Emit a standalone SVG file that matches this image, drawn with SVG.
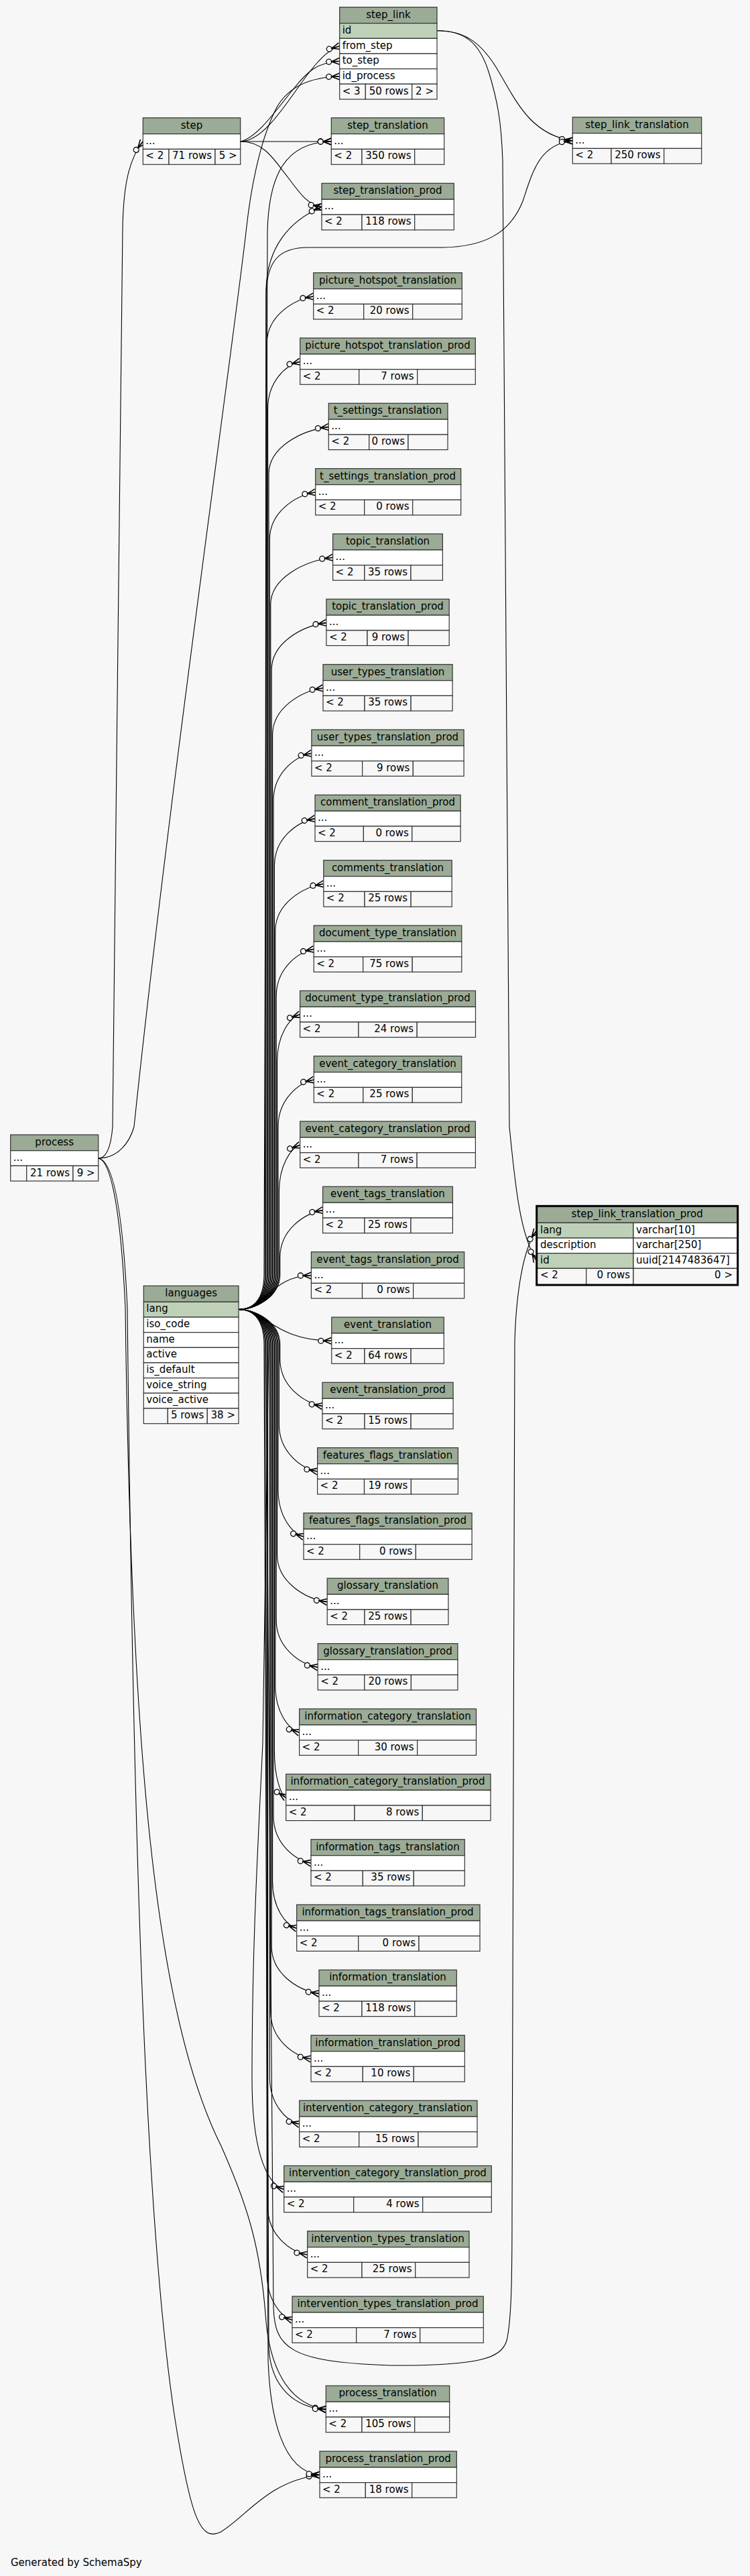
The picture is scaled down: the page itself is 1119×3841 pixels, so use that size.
<svg xmlns="http://www.w3.org/2000/svg" width="1119" height="3841" viewBox="0 0 1119 3841">
<style>
text{font-family:"DejaVu Sans","Liberation Sans",sans-serif;font-size:15px;fill:#000}
.c{text-anchor:middle}
.e{text-anchor:end}
.h{fill:#9bab96;stroke:#333;stroke-width:1.2}
.r{fill:#fff;stroke:#333;stroke-width:1.2}
.k{fill:#bed1b8;stroke:#333;stroke-width:1.2}
.f{fill:#f7f7f7;stroke:#333;stroke-width:1.2}
.l{fill:none;stroke:#000;stroke-width:1.1;marker-end:url(#cf)}
</style>
<defs>
<marker id="cf" viewBox="-22 -7 24 14" refX="0" refY="0" markerWidth="24" markerHeight="14" markerUnits="userSpaceOnUse" orient="auto" overflow="visible">
<circle cx="-16" cy="0" r="4" fill="#f7f7f7" stroke="#000" stroke-width="1.3"/>
<path d="M0,-5 L-12,0 L0,5 M-12,0 L0,0" fill="none" stroke="#000" stroke-width="1.6"/>
</marker>
</defs>
<rect x="0" y="0" width="1119" height="3841" fill="#f7f7f7"/>
<g id="edges">
<path class="l" d="M358.7,211 C400,211 440,130 472,95 C485,80 495,72 506.7,68.7"/>
<path class="l" d="M358.7,211 C385,205 415,160 440,130 C458,108 472,93 506.7,91.3"/>
<path class="l" d="M358.7,211 L494.3,211"/>
<path class="l" d="M358.7,211 C395,211 410,240 430,265 C450,292 460,305 480,308.5"/>
<path class="l" d="M146.7,1727 C160,1727 166,1705 168,1680 C172,1300 180,600 183,340 C184,285 190,240 213.3,211"/>
<path class="l" d="M146.7,1727 C175,1727 193,1705 200,1680 C250,1200 350,500 367.7,340 C376,265 392,200 413,160 C430,130 460,115 506.7,114"/>
<path class="l" d="M146.7,1727 C165,1730 180,1800 187,1950 C195,2600 230,3000 330,3200 C370,3290 388,3350 396,3450 C401,3530 430,3585 486.3,3592.6"/>
<path class="l" d="M146.7,1727 C168,1730 183,1800 190,1950 C198,2700 215,3300 260,3600 C285,3760 300,3790 330,3775 C370,3750 400,3700 477,3690.3"/>
<path class="l" d="M652,45.7 C690,45.7 715,60 740,100 C770,150 790,200 854.3,210"/>
<path class="l" d="M652,45.7 C690,45.7 715,60 730,110 C742,150 748,180 750,240 L760,1680 C768,1760 775,1840 800.7,1880"/>
<path class="l" d="M356,1952.5 C380,1952.5 394,1935 394,1900 L399,345 C401,262 425,212 494.3,211"/>
<path class="l" d="M356,1952.5 C380,1952.5 395.4,1935 395.4,1900 L397,430 C399,370 430,330 480,308.5"/>
<path class="l" d="M356,1952.5 C380,1952.5 396.8,1935 396.8,1900 L397,440 C398,390 415,369 460,369 L660,369 C720,368 760,350 780,300 C795,255 805,215 854.3,210"/>
<path class="l" d="M356,1952.5 C380,1952.5 398.2,1935 398.2,1900 L398.2,512 C398.2,472 436.4,447 467.7,442"/>
<path class="l" d="M356,1952.5 C380,1952.5 399.6,1935 399.6,1900 L399.6,609.3 C399.6,569.3 426.1,544.3 447.7,539.3"/>
<path class="l" d="M356,1952.5 C380,1952.5 401,1935 401,1900 L401,706.6 C401,666.6 450.1,641.6 490.3,636.6"/>
<path class="l" d="M356,1952.5 C380,1952.5 402.4,1935 402.4,1900 L402.4,804 C402.4,764 440,739 470.7,734"/>
<path class="l" d="M356,1952.5 C380,1952.5 403.8,1935 403.8,1900 L403.8,901.3 C403.8,861.3 454.8,836.3 496.6,831.3"/>
<path class="l" d="M356,1952.5 C380,1952.5 405.2,1935 405.2,1900 L405.2,998.6 C405.2,958.6 450.1,933.6 486.9,928.6"/>
<path class="l" d="M356,1952.5 C380,1952.5 406.6,1935 406.6,1900 L406.6,1096 C406.6,1056 448.1,1031 482,1026"/>
<path class="l" d="M356,1952.5 C380,1952.5 408,1935 408,1900 L408,1193.3 C408,1153.3 439.3,1128.3 464.9,1123.3"/>
<path class="l" d="M356,1952.5 C380,1952.5 409.4,1935 409.4,1900 L409.4,1290.6 C409.4,1250.6 442.7,1225.6 470,1220.6"/>
<path class="l" d="M356,1952.5 C380,1952.5 410.8,1935 410.8,1900 L410.8,1388 C410.8,1348 450.4,1323 482.8,1318"/>
<path class="l" d="M356,1952.5 C380,1952.5 412.2,1935 412.2,1900 L412.2,1485.3 C412.2,1445.3 443,1420.3 468.2,1415.3"/>
<path class="l" d="M356,1952.5 C380,1952.5 413.6,1935 413.6,1900 L413.6,1582.6 C413.6,1542.6 432.3,1517.6 447.6,1512.6"/>
<path class="l" d="M356,1952.5 C380,1952.5 415,1935 415,1900 L415,1680 C415,1640 444.3,1615 468.3,1610"/>
<path class="l" d="M356,1952.5 C380,1952.5 416.4,1935 416.4,1900 L416.4,1777.3 C416.4,1737.3 433.6,1712.3 447.7,1707.3"/>
<path class="l" d="M356,1952.5 C380,1952.5 417.8,1935 417.8,1900 L417.8,1874.6 C417.8,1834.6 452.9,1809.6 481.6,1804.6"/>
<path class="l" d="M356,1952.5 C395,1952.5 405,1902 464.4,1902"/>
<path class="l" d="M356,1952.5 C395,1952.5 410,1999.3 494.8,1999.3"/>
<path class="l" d="M356,1952.5 C380,1952.5 417.8,1970 417.8,2005 L417.8,2026.6 C417.8,2066.6 452.6,2091.6 481,2096.6"/>
<path class="l" d="M356,1952.5 C380,1952.5 416.4,1970 416.4,2005 L416.4,2124 C416.4,2164 447.9,2189 473.6,2194"/>
<path class="l" d="M356,1952.5 C380,1952.5 415,1970 415,2005 L415,2221.3 C415,2261.3 435.9,2286.3 453,2291.3"/>
<path class="l" d="M356,1952.5 C380,1952.5 413.6,1970 413.6,2005 L413.6,2318.6 C413.6,2358.6 454.6,2383.6 488.2,2388.6"/>
<path class="l" d="M356,1952.5 C380,1952.5 412.2,1970 412.2,2005 L412.2,2416 C412.2,2456 446.3,2481 474.2,2486"/>
<path class="l" d="M356,1952.5 C380,1952.5 410.8,1970 410.8,2005 L410.8,2513.3 C410.8,2553.3 430.5,2578.3 446.6,2583.3"/>
<path class="l" d="M356,1952.5 C380,1952.5 409.4,1970 409.4,2005 L409.4,2610.6 C409.4,2650.6 418.9,2675.6 426.7,2680.6"/>
<path class="l" d="M356,1952.5 C380,1952.5 408,1970 408,2005 L408,2708 C408,2748 438.8,2773 464,2778"/>
<path class="l" d="M356,1952.5 C380,1952.5 406.6,1970 406.6,2005 L406.6,2805.3 C406.6,2845.3 426.5,2870.3 442.7,2875.3"/>
<path class="l" d="M356,1952.5 C380,1952.5 405.2,1970 405.2,2005 L405.2,2902.6 C405.2,2942.6 444.1,2967.6 476,2972.6"/>
<path class="l" d="M356,1952.5 C380,1952.5 403.8,1970 403.8,2005 L403.8,3000 C403.8,3040 436.9,3065 464,3070"/>
<path class="l" d="M356,1952.5 C380,1952.5 402.4,1970 402.4,2005 L402.4,3097.3 C402.4,3137.3 426.8,3162.3 446.7,3167.3"/>
<path class="l" d="M356,1952.5 C380,1952.5 401,1970 401,2005 L392,2600 C385,2750 376,2900 376,3100 C376,3200 395,3255 423.7,3264.6"/>
<path class="l" d="M356,1952.5 C380,1952.5 399.6,1970 399.6,2005 L399.6,3292 C399.6,3332 432.1,3357 458.7,3362"/>
<path class="l" d="M356,1952.5 C380,1952.5 398.2,1970 398.2,2005 L398.2,3389.3 C398.2,3429.3 419,3454.3 436,3459.3"/>
<path class="l" d="M356,1952.5 C380,1952.5 396.8,1970 396.8,2005 L408,3440 C410,3500 430,3522 582,3527 C720,3528 748,3515 756,3490 C763,3460 764,3400 764,3300 L768,2000 C770,1930 780,1862 800.7,1834.7"/>
<path class="l" d="M356,1952.5 C380,1952.5 395.4,1970 395.4,2005 L401,3500 C404,3560 440,3590 486.3,3592.6"/>
<path class="l" d="M356,1952.5 C380,1952.5 394,1970 394,2005 L400,3520 C403,3600 420,3685 477,3690.3"/>
</g>
<g id="step_link"><rect class="h" x="506.7" y="10.7" width="145.3" height="24"/><rect class="k" x="506.7" y="34.7" width="145.3" height="22.6"/><rect class="r" x="506.7" y="57.3" width="145.3" height="22.7"/><rect class="r" x="506.7" y="80" width="145.3" height="22.7"/><rect class="r" x="506.7" y="102.7" width="145.3" height="22.6"/><rect class="f" x="506.7" y="125.3" width="38.6" height="22.7"/><rect class="f" x="545.3" y="125.3" width="69.4" height="22.7"/><rect class="f" x="614.7" y="125.3" width="37.3" height="22.7"/><text class="c" x="579.4" y="26.7">step_link</text><text x="510.7" y="50">id</text><text x="510.7" y="72.6">from_step</text><text x="510.7" y="95.3">to_step</text><text x="510.7" y="118">id_process</text><text x="510.7" y="140.6">&lt; 3</text><text class="e" x="609.7" y="140.6">50 rows</text><text class="e" x="647" y="140.6">2 &gt;</text></g>
<g id="step"><rect class="h" x="213.3" y="175.7" width="145.4" height="24"/><rect class="r" x="213.3" y="199.7" width="145.4" height="22.7"/><rect class="f" x="213.3" y="222.4" width="38.7" height="22.9"/><rect class="f" x="252" y="222.4" width="69" height="22.9"/><rect class="f" x="321" y="222.4" width="37.7" height="22.9"/><text class="c" x="286" y="191.7">step</text><text x="217.3" y="214.7">...</text><text x="217.3" y="237.2">&lt; 2</text><text class="e" x="316" y="237.2">71 rows</text><text class="e" x="353.7" y="237.2">5 &gt;</text></g>
<g id="step_translation"><rect class="h" x="494.3" y="175.7" width="168.4" height="24"/><rect class="r" x="494.3" y="199.7" width="168.4" height="22.7"/><rect class="f" x="494.3" y="222.4" width="45.7" height="22.9"/><rect class="f" x="540" y="222.4" width="78.7" height="22.9"/><rect class="f" x="618.7" y="222.4" width="44" height="22.9"/><text class="c" x="578.5" y="191.7">step_translation</text><text x="498.3" y="214.7">...</text><text x="498.3" y="237.2">&lt; 2</text><text class="e" x="613.7" y="237.2">350 rows</text></g>
<g id="step_translation_prod"><rect class="h" x="480" y="273.3" width="197.3" height="24"/><rect class="r" x="480" y="297.3" width="197.3" height="22.7"/><rect class="f" x="480" y="320" width="60" height="22.9"/><rect class="f" x="540" y="320" width="78.7" height="22.9"/><rect class="f" x="618.7" y="320" width="58.6" height="22.9"/><text class="c" x="578.5" y="289.3">step_translation_prod</text><text x="484" y="312.3">...</text><text x="484" y="334.8">&lt; 2</text><text class="e" x="613.7" y="334.8">118 rows</text></g>
<g id="step_link_translation"><rect class="h" x="854.3" y="174.7" width="192.4" height="24"/><rect class="r" x="854.3" y="198.7" width="192.4" height="22.7"/><rect class="f" x="854.3" y="221.4" width="57.7" height="22.6"/><rect class="f" x="912" y="221.4" width="78.7" height="22.6"/><rect class="f" x="990.7" y="221.4" width="56" height="22.6"/><text class="c" x="950.5" y="190.7">step_link_translation</text><text x="858.3" y="213.7">...</text><text x="858.3" y="236.2">&lt; 2</text><text class="e" x="985.7" y="236.2">250 rows</text></g>
<g id="step_link_translation_prod"><rect class="h" x="800.7" y="1798.3" width="300" height="25"/><rect class="k" x="800.7" y="1823.3" width="144.3" height="22.7"/><rect class="r" x="945" y="1823.3" width="155.7" height="22.7"/><rect class="r" x="800.7" y="1846" width="144.3" height="22.7"/><rect class="r" x="945" y="1846" width="155.7" height="22.7"/><rect class="k" x="800.7" y="1868.7" width="144.3" height="22.6"/><rect class="r" x="945" y="1868.7" width="155.7" height="22.6"/><rect class="f" x="800.7" y="1891.3" width="74" height="24.7"/><rect class="f" x="874.7" y="1891.3" width="70.3" height="24.7"/><rect class="f" x="945" y="1891.3" width="155.7" height="24.7"/><rect x="800.7" y="1798.3" width="300" height="117.7" fill="none" stroke="#000" stroke-width="3"/><text class="c" x="950.7" y="1815">step_link_translation_prod</text><text x="806" y="1838.5">lang</text><text x="949" y="1838.5">varchar[10]</text><text x="806" y="1861.2">description</text><text x="949" y="1861.2">varchar[250]</text><text x="806" y="1883.8">id</text><text x="949" y="1883.8">uuid[2147483647]</text><text x="806" y="1906">&lt; 2</text><text class="e" x="940" y="1906">0 rows</text><text class="e" x="1093" y="1906">0 &gt;</text></g>
<g id="process"><rect class="h" x="15.7" y="1692" width="131" height="23.7"/><rect class="r" x="15.7" y="1715.7" width="131" height="22.6"/><rect class="f" x="15.7" y="1738.3" width="24" height="22.7"/><rect class="f" x="39.7" y="1738.3" width="69.3" height="22.7"/><rect class="f" x="109" y="1738.3" width="37.7" height="22.7"/><text class="c" x="81.2" y="1708">process</text><text x="19.7" y="1731">...</text><text class="e" x="104" y="1753.5">21 rows</text><text class="e" x="141.7" y="1753.5">9 &gt;</text></g>
<g id="languages"><rect class="h" x="214.3" y="1917.3" width="141.7" height="24"/><rect class="k" x="214.3" y="1941.3" width="141.7" height="22.7"/><rect class="r" x="214.3" y="1964" width="141.7" height="22.7"/><rect class="r" x="214.3" y="1986.7" width="141.7" height="22.6"/><rect class="r" x="214.3" y="2009.3" width="141.7" height="22.7"/><rect class="r" x="214.3" y="2032" width="141.7" height="22.7"/><rect class="r" x="214.3" y="2054.7" width="141.7" height="22.6"/><rect class="r" x="214.3" y="2077.3" width="141.7" height="22.7"/><rect class="f" x="214.3" y="2100" width="36" height="22.7"/><rect class="f" x="250.3" y="2100" width="59" height="22.7"/><rect class="f" x="309.3" y="2100" width="46.7" height="22.7"/><text class="c" x="285.2" y="1933.3">languages</text><text x="218.3" y="1956.3">lang</text><text x="218.3" y="1979">iso_code</text><text x="218.3" y="2001.7">name</text><text x="218.3" y="2024.3">active</text><text x="218.3" y="2047">is_default</text><text x="218.3" y="2069.7">voice_string</text><text x="218.3" y="2092.3">voice_active</text><text class="e" x="304.3" y="2115">5 rows</text><text class="e" x="351" y="2115">38 &gt;</text></g>
<g id="picture_hotspot_translation"><rect class="h" x="467.7" y="406.7" width="221.6" height="24"/><rect class="r" x="467.7" y="430.7" width="221.6" height="22.7"/><rect class="f" x="467.7" y="453.4" width="75" height="22.6"/><rect class="f" x="542.7" y="453.4" width="73" height="22.6"/><rect class="f" x="615.7" y="453.4" width="73.6" height="22.6"/><text class="c" x="578.5" y="422.7">picture_hotspot_translation</text><text x="471.7" y="445.7">...</text><text x="471.7" y="468.2">&lt; 2</text><text class="e" x="610.7" y="468.2">20 rows</text></g>
<g id="picture_hotspot_translation_prod"><rect class="h" x="447.7" y="504" width="261.6" height="24"/><rect class="r" x="447.7" y="528" width="261.6" height="22.7"/><rect class="f" x="447.7" y="550.7" width="88" height="22.6"/><rect class="f" x="535.7" y="550.7" width="87" height="22.6"/><rect class="f" x="622.7" y="550.7" width="86.6" height="22.6"/><text class="c" x="578.5" y="520">picture_hotspot_translation_prod</text><text x="451.7" y="543">...</text><text x="451.7" y="565.5">&lt; 2</text><text class="e" x="617.7" y="565.5">7 rows</text></g>
<g id="t_settings_translation"><rect class="h" x="490.3" y="601.3" width="177.7" height="24"/><rect class="r" x="490.3" y="625.3" width="177.7" height="22.7"/><rect class="f" x="490.3" y="648" width="60.4" height="22.6"/><rect class="f" x="550.7" y="648" width="58.3" height="22.6"/><rect class="f" x="609" y="648" width="59" height="22.6"/><text class="c" x="578.5" y="617.3">t_settings_translation</text><text x="494.3" y="640.3">...</text><text x="494.3" y="662.8">&lt; 2</text><text class="e" x="604" y="662.8">0 rows</text></g>
<g id="t_settings_translation_prod"><rect class="h" x="470.7" y="698.7" width="217" height="24"/><rect class="r" x="470.7" y="722.7" width="217" height="22.7"/><rect class="f" x="470.7" y="745.4" width="73" height="22.6"/><rect class="f" x="543.7" y="745.4" width="72" height="22.6"/><rect class="f" x="615.7" y="745.4" width="72" height="22.6"/><text class="c" x="578.5" y="714.7">t_settings_translation_prod</text><text x="474.7" y="737.7">...</text><text x="474.7" y="760.2">&lt; 2</text><text class="e" x="610.7" y="760.2">0 rows</text></g>
<g id="topic_translation"><rect class="h" x="496.6" y="796" width="163.8" height="24"/><rect class="r" x="496.6" y="820" width="163.8" height="22.7"/><rect class="f" x="496.6" y="842.7" width="47.3" height="22.6"/><rect class="f" x="543.9" y="842.7" width="69.1" height="22.6"/><rect class="f" x="613" y="842.7" width="47.4" height="22.6"/><text class="c" x="578.5" y="812">topic_translation</text><text x="500.6" y="835">...</text><text x="500.6" y="857.5">&lt; 2</text><text class="e" x="608" y="857.5">35 rows</text></g>
<g id="topic_translation_prod"><rect class="h" x="486.9" y="893.3" width="183.3" height="24"/><rect class="r" x="486.9" y="917.3" width="183.3" height="22.7"/><rect class="f" x="486.9" y="940" width="61.1" height="22.6"/><rect class="f" x="548" y="940" width="61.1" height="22.6"/><rect class="f" x="609.1" y="940" width="61.1" height="22.6"/><text class="c" x="578.5" y="909.3">topic_translation_prod</text><text x="490.9" y="932.3">...</text><text x="490.9" y="954.8">&lt; 2</text><text class="e" x="604.1" y="954.8">9 rows</text></g>
<g id="user_types_translation"><rect class="h" x="482" y="990.7" width="193.1" height="24"/><rect class="r" x="482" y="1014.7" width="193.1" height="22.7"/><rect class="f" x="482" y="1037.4" width="62" height="22.6"/><rect class="f" x="544" y="1037.4" width="69.1" height="22.6"/><rect class="f" x="613.1" y="1037.4" width="62" height="22.6"/><text class="c" x="578.5" y="1006.7">user_types_translation</text><text x="486" y="1029.7">...</text><text x="486" y="1052.2">&lt; 2</text><text class="e" x="608.1" y="1052.2">35 rows</text></g>
<g id="user_types_translation_prod"><rect class="h" x="464.9" y="1088" width="227.2" height="24"/><rect class="r" x="464.9" y="1112" width="227.2" height="22.7"/><rect class="f" x="464.9" y="1134.7" width="75.7" height="22.6"/><rect class="f" x="540.6" y="1134.7" width="75.7" height="22.6"/><rect class="f" x="616.3" y="1134.7" width="75.8" height="22.6"/><text class="c" x="578.5" y="1104">user_types_translation_prod</text><text x="468.9" y="1127">...</text><text x="468.9" y="1149.5">&lt; 2</text><text class="e" x="611.3" y="1149.5">9 rows</text></g>
<g id="comment_translation_prod"><rect class="h" x="470" y="1185.3" width="217.1" height="24"/><rect class="r" x="470" y="1209.3" width="217.1" height="22.7"/><rect class="f" x="470" y="1232" width="72.4" height="22.6"/><rect class="f" x="542.4" y="1232" width="72.4" height="22.6"/><rect class="f" x="614.8" y="1232" width="72.3" height="22.6"/><text class="c" x="578.5" y="1201.3">comment_translation_prod</text><text x="474" y="1224.3">...</text><text x="474" y="1246.8">&lt; 2</text><text class="e" x="609.8" y="1246.8">0 rows</text></g>
<g id="comments_translation"><rect class="h" x="482.8" y="1282.7" width="191.4" height="24"/><rect class="r" x="482.8" y="1306.7" width="191.4" height="22.7"/><rect class="f" x="482.8" y="1329.4" width="61.2" height="22.6"/><rect class="f" x="544" y="1329.4" width="69.1" height="22.6"/><rect class="f" x="613.1" y="1329.4" width="61.1" height="22.6"/><text class="c" x="578.5" y="1298.7">comments_translation</text><text x="486.8" y="1321.7">...</text><text x="486.8" y="1344.2">&lt; 2</text><text class="e" x="608.1" y="1344.2">25 rows</text></g>
<g id="document_type_translation"><rect class="h" x="468.2" y="1380" width="220.6" height="24"/><rect class="r" x="468.2" y="1404" width="220.6" height="22.7"/><rect class="f" x="468.2" y="1426.7" width="73.5" height="22.6"/><rect class="f" x="541.7" y="1426.7" width="73.5" height="22.6"/><rect class="f" x="615.2" y="1426.7" width="73.6" height="22.6"/><text class="c" x="578.5" y="1396">document_type_translation</text><text x="472.2" y="1419">...</text><text x="472.2" y="1441.5">&lt; 2</text><text class="e" x="610.2" y="1441.5">75 rows</text></g>
<g id="document_type_translation_prod"><rect class="h" x="447.6" y="1477.3" width="261.9" height="24"/><rect class="r" x="447.6" y="1501.3" width="261.9" height="22.7"/><rect class="f" x="447.6" y="1524" width="87.3" height="22.6"/><rect class="f" x="534.9" y="1524" width="87.3" height="22.6"/><rect class="f" x="622.2" y="1524" width="87.3" height="22.6"/><text class="c" x="578.5" y="1493.3">document_type_translation_prod</text><text x="451.6" y="1516.3">...</text><text x="451.6" y="1538.8">&lt; 2</text><text class="e" x="617.2" y="1538.8">24 rows</text></g>
<g id="event_category_translation"><rect class="h" x="468.3" y="1574.7" width="220.4" height="24"/><rect class="r" x="468.3" y="1598.7" width="220.4" height="22.7"/><rect class="f" x="468.3" y="1621.4" width="73.5" height="22.6"/><rect class="f" x="541.8" y="1621.4" width="73.5" height="22.6"/><rect class="f" x="615.3" y="1621.4" width="73.4" height="22.6"/><text class="c" x="578.5" y="1590.7">event_category_translation</text><text x="472.3" y="1613.7">...</text><text x="472.3" y="1636.2">&lt; 2</text><text class="e" x="610.3" y="1636.2">25 rows</text></g>
<g id="event_category_translation_prod"><rect class="h" x="447.7" y="1672" width="261.7" height="24"/><rect class="r" x="447.7" y="1696" width="261.7" height="22.7"/><rect class="f" x="447.7" y="1718.7" width="87.2" height="22.6"/><rect class="f" x="534.9" y="1718.7" width="87.2" height="22.6"/><rect class="f" x="622.1" y="1718.7" width="87.3" height="22.6"/><text class="c" x="578.5" y="1688">event_category_translation_prod</text><text x="451.7" y="1711">...</text><text x="451.7" y="1733.5">&lt; 2</text><text class="e" x="617.1" y="1733.5">7 rows</text></g>
<g id="event_tags_translation"><rect class="h" x="481.6" y="1769.3" width="193.8" height="24"/><rect class="r" x="481.6" y="1793.3" width="193.8" height="22.7"/><rect class="f" x="481.6" y="1816" width="62.3" height="22.6"/><rect class="f" x="543.9" y="1816" width="69.1" height="22.6"/><rect class="f" x="613" y="1816" width="62.4" height="22.6"/><text class="c" x="578.5" y="1785.3">event_tags_translation</text><text x="485.6" y="1808.3">...</text><text x="485.6" y="1830.8">&lt; 2</text><text class="e" x="608" y="1830.8">25 rows</text></g>
<g id="event_tags_translation_prod"><rect class="h" x="464.4" y="1866.7" width="228.3" height="24"/><rect class="r" x="464.4" y="1890.7" width="228.3" height="22.7"/><rect class="f" x="464.4" y="1913.4" width="76.1" height="22.6"/><rect class="f" x="540.5" y="1913.4" width="76.1" height="22.6"/><rect class="f" x="616.6" y="1913.4" width="76.1" height="22.6"/><text class="c" x="578.5" y="1882.7">event_tags_translation_prod</text><text x="468.4" y="1905.7">...</text><text x="468.4" y="1928.2">&lt; 2</text><text class="e" x="611.6" y="1928.2">0 rows</text></g>
<g id="event_translation"><rect class="h" x="494.8" y="1964" width="167.5" height="24"/><rect class="r" x="494.8" y="1988" width="167.5" height="22.7"/><rect class="f" x="494.8" y="2010.7" width="49.2" height="22.6"/><rect class="f" x="544" y="2010.7" width="69.1" height="22.6"/><rect class="f" x="613.1" y="2010.7" width="49.2" height="22.6"/><text class="c" x="578.5" y="1980">event_translation</text><text x="498.8" y="2003">...</text><text x="498.8" y="2025.5">&lt; 2</text><text class="e" x="608.1" y="2025.5">64 rows</text></g>
<g id="event_translation_prod"><rect class="h" x="481" y="2061.3" width="195.1" height="24"/><rect class="r" x="481" y="2085.3" width="195.1" height="22.7"/><rect class="f" x="481" y="2108" width="63" height="22.6"/><rect class="f" x="544" y="2108" width="69.1" height="22.6"/><rect class="f" x="613.1" y="2108" width="63" height="22.6"/><text class="c" x="578.5" y="2077.3">event_translation_prod</text><text x="485" y="2100.3">...</text><text x="485" y="2122.8">&lt; 2</text><text class="e" x="608.1" y="2122.8">15 rows</text></g>
<g id="features_flags_translation"><rect class="h" x="473.6" y="2158.7" width="209.8" height="24"/><rect class="r" x="473.6" y="2182.7" width="209.8" height="22.7"/><rect class="f" x="473.6" y="2205.4" width="69.9" height="22.6"/><rect class="f" x="543.5" y="2205.4" width="69.9" height="22.6"/><rect class="f" x="613.4" y="2205.4" width="70" height="22.6"/><text class="c" x="578.5" y="2174.7">features_flags_translation</text><text x="477.6" y="2197.7">...</text><text x="477.6" y="2220.2">&lt; 2</text><text class="e" x="608.4" y="2220.2">19 rows</text></g>
<g id="features_flags_translation_prod"><rect class="h" x="453" y="2256" width="251.1" height="24"/><rect class="r" x="453" y="2280" width="251.1" height="22.7"/><rect class="f" x="453" y="2302.7" width="83.7" height="22.6"/><rect class="f" x="536.7" y="2302.7" width="83.7" height="22.6"/><rect class="f" x="620.4" y="2302.7" width="83.7" height="22.6"/><text class="c" x="578.5" y="2272">features_flags_translation_prod</text><text x="457" y="2295">...</text><text x="457" y="2317.5">&lt; 2</text><text class="e" x="615.4" y="2317.5">0 rows</text></g>
<g id="glossary_translation"><rect class="h" x="488.2" y="2353.3" width="180.7" height="24"/><rect class="r" x="488.2" y="2377.3" width="180.7" height="22.7"/><rect class="f" x="488.2" y="2400" width="55.8" height="22.6"/><rect class="f" x="544" y="2400" width="69.1" height="22.6"/><rect class="f" x="613.1" y="2400" width="55.8" height="22.6"/><text class="c" x="578.5" y="2369.3">glossary_translation</text><text x="492.2" y="2392.3">...</text><text x="492.2" y="2414.8">&lt; 2</text><text class="e" x="608.1" y="2414.8">25 rows</text></g>
<g id="glossary_translation_prod"><rect class="h" x="474.2" y="2450.7" width="208.7" height="24"/><rect class="r" x="474.2" y="2474.7" width="208.7" height="22.7"/><rect class="f" x="474.2" y="2497.4" width="69.6" height="22.6"/><rect class="f" x="543.8" y="2497.4" width="69.6" height="22.6"/><rect class="f" x="613.4" y="2497.4" width="69.5" height="22.6"/><text class="c" x="578.5" y="2466.7">glossary_translation_prod</text><text x="478.2" y="2489.7">...</text><text x="478.2" y="2512.2">&lt; 2</text><text class="e" x="608.4" y="2512.2">20 rows</text></g>
<g id="information_category_translation"><rect class="h" x="446.6" y="2548" width="263.9" height="24"/><rect class="r" x="446.6" y="2572" width="263.9" height="22.7"/><rect class="f" x="446.6" y="2594.7" width="88" height="22.6"/><rect class="f" x="534.6" y="2594.7" width="88" height="22.6"/><rect class="f" x="622.6" y="2594.7" width="87.9" height="22.6"/><text class="c" x="578.5" y="2564">information_category_translation</text><text x="450.6" y="2587">...</text><text x="450.6" y="2609.5">&lt; 2</text><text class="e" x="617.6" y="2609.5">30 rows</text></g>
<g id="information_category_translation_prod"><rect class="h" x="426.7" y="2645.3" width="305.3" height="24"/><rect class="r" x="426.7" y="2669.3" width="305.3" height="22.7"/><rect class="f" x="426.7" y="2692" width="102.3" height="22.6"/><rect class="f" x="529" y="2692" width="101.3" height="22.6"/><rect class="f" x="630.3" y="2692" width="101.7" height="22.6"/><text class="c" x="578.5" y="2661.3">information_category_translation_prod</text><text x="430.7" y="2684.3">...</text><text x="430.7" y="2706.8">&lt; 2</text><text class="e" x="625.3" y="2706.8">8 rows</text></g>
<g id="information_tags_translation"><rect class="h" x="464" y="2742.7" width="229.3" height="24"/><rect class="r" x="464" y="2766.7" width="229.3" height="22.7"/><rect class="f" x="464" y="2789.4" width="77.3" height="22.6"/><rect class="f" x="541.3" y="2789.4" width="76" height="22.6"/><rect class="f" x="617.3" y="2789.4" width="76" height="22.6"/><text class="c" x="578.5" y="2758.7">information_tags_translation</text><text x="468" y="2781.7">...</text><text x="468" y="2804.2">&lt; 2</text><text class="e" x="612.3" y="2804.2">35 rows</text></g>
<g id="information_tags_translation_prod"><rect class="h" x="442.7" y="2840" width="273.3" height="24"/><rect class="r" x="442.7" y="2864" width="273.3" height="22.7"/><rect class="f" x="442.7" y="2886.7" width="92" height="22.6"/><rect class="f" x="534.7" y="2886.7" width="90.3" height="22.6"/><rect class="f" x="625" y="2886.7" width="91" height="22.6"/><text class="c" x="578.5" y="2856">information_tags_translation_prod</text><text x="446.7" y="2879">...</text><text x="446.7" y="2901.5">&lt; 2</text><text class="e" x="620" y="2901.5">0 rows</text></g>
<g id="information_translation"><rect class="h" x="476" y="2937.3" width="205.3" height="24"/><rect class="r" x="476" y="2961.3" width="205.3" height="22.7"/><rect class="f" x="476" y="2984" width="64" height="22.6"/><rect class="f" x="540" y="2984" width="78.7" height="22.6"/><rect class="f" x="618.7" y="2984" width="62.6" height="22.6"/><text class="c" x="578.5" y="2953.3">information_translation</text><text x="480" y="2976.3">...</text><text x="480" y="2998.8">&lt; 2</text><text class="e" x="613.7" y="2998.8">118 rows</text></g>
<g id="information_translation_prod"><rect class="h" x="464" y="3034.7" width="229.3" height="24"/><rect class="r" x="464" y="3058.7" width="229.3" height="22.7"/><rect class="f" x="464" y="3081.4" width="77.3" height="22.6"/><rect class="f" x="541.3" y="3081.4" width="76" height="22.6"/><rect class="f" x="617.3" y="3081.4" width="76" height="22.6"/><text class="c" x="578.5" y="3050.7">information_translation_prod</text><text x="468" y="3073.7">...</text><text x="468" y="3096.2">&lt; 2</text><text class="e" x="612.3" y="3096.2">10 rows</text></g>
<g id="intervention_category_translation"><rect class="h" x="446.7" y="3132" width="265.3" height="24"/><rect class="r" x="446.7" y="3156" width="265.3" height="22.7"/><rect class="f" x="446.7" y="3178.7" width="89" height="22.6"/><rect class="f" x="535.7" y="3178.7" width="88.3" height="22.6"/><rect class="f" x="624" y="3178.7" width="88" height="22.6"/><text class="c" x="578.5" y="3148">intervention_category_translation</text><text x="450.7" y="3171">...</text><text x="450.7" y="3193.5">&lt; 2</text><text class="e" x="619" y="3193.5">15 rows</text></g>
<g id="intervention_category_translation_prod"><rect class="h" x="423.7" y="3229.3" width="309.6" height="24"/><rect class="r" x="423.7" y="3253.3" width="309.6" height="22.7"/><rect class="f" x="423.7" y="3276" width="104" height="22.6"/><rect class="f" x="527.7" y="3276" width="103" height="22.6"/><rect class="f" x="630.7" y="3276" width="102.6" height="22.6"/><text class="c" x="578.5" y="3245.3">intervention_category_translation_prod</text><text x="427.7" y="3268.3">...</text><text x="427.7" y="3290.8">&lt; 2</text><text class="e" x="625.7" y="3290.8">4 rows</text></g>
<g id="intervention_types_translation"><rect class="h" x="458.7" y="3326.7" width="241.3" height="24"/><rect class="r" x="458.7" y="3350.7" width="241.3" height="22.7"/><rect class="f" x="458.7" y="3373.4" width="81.3" height="22.6"/><rect class="f" x="540" y="3373.4" width="79.7" height="22.6"/><rect class="f" x="619.7" y="3373.4" width="80.3" height="22.6"/><text class="c" x="578.5" y="3342.7">intervention_types_translation</text><text x="462.7" y="3365.7">...</text><text x="462.7" y="3388.2">&lt; 2</text><text class="e" x="614.7" y="3388.2">25 rows</text></g>
<g id="intervention_types_translation_prod"><rect class="h" x="436" y="3424" width="285.3" height="24"/><rect class="r" x="436" y="3448" width="285.3" height="22.7"/><rect class="f" x="436" y="3470.7" width="95.7" height="22.6"/><rect class="f" x="531.7" y="3470.7" width="95" height="22.6"/><rect class="f" x="626.7" y="3470.7" width="94.6" height="22.6"/><text class="c" x="578.5" y="3440">intervention_types_translation_prod</text><text x="440" y="3463">...</text><text x="440" y="3485.5">&lt; 2</text><text class="e" x="621.7" y="3485.5">7 rows</text></g>
<g id="process_translation"><rect class="h" x="486.3" y="3557.3" width="184.4" height="24"/><rect class="r" x="486.3" y="3581.3" width="184.4" height="22.7"/><rect class="f" x="486.3" y="3604" width="53.7" height="22.7"/><rect class="f" x="540" y="3604" width="78.7" height="22.7"/><rect class="f" x="618.7" y="3604" width="52" height="22.7"/><text class="c" x="578.5" y="3573.3">process_translation</text><text x="490.3" y="3596.3">...</text><text x="490.3" y="3618.8">&lt; 2</text><text class="e" x="613.7" y="3618.8">105 rows</text></g>
<g id="process_translation_prod"><rect class="h" x="477" y="3655" width="204.3" height="24"/><rect class="r" x="477" y="3679" width="204.3" height="22.7"/><rect class="f" x="477" y="3701.7" width="68.3" height="22.6"/><rect class="f" x="545.3" y="3701.7" width="69.4" height="22.6"/><rect class="f" x="614.7" y="3701.7" width="66.6" height="22.6"/><text class="c" x="579.2" y="3671">process_translation_prod</text><text x="481" y="3694">...</text><text x="481" y="3716.5">&lt; 2</text><text class="e" x="609.7" y="3716.5">18 rows</text></g>
<text x="16" y="3826">Generated by SchemaSpy</text>
</svg>
